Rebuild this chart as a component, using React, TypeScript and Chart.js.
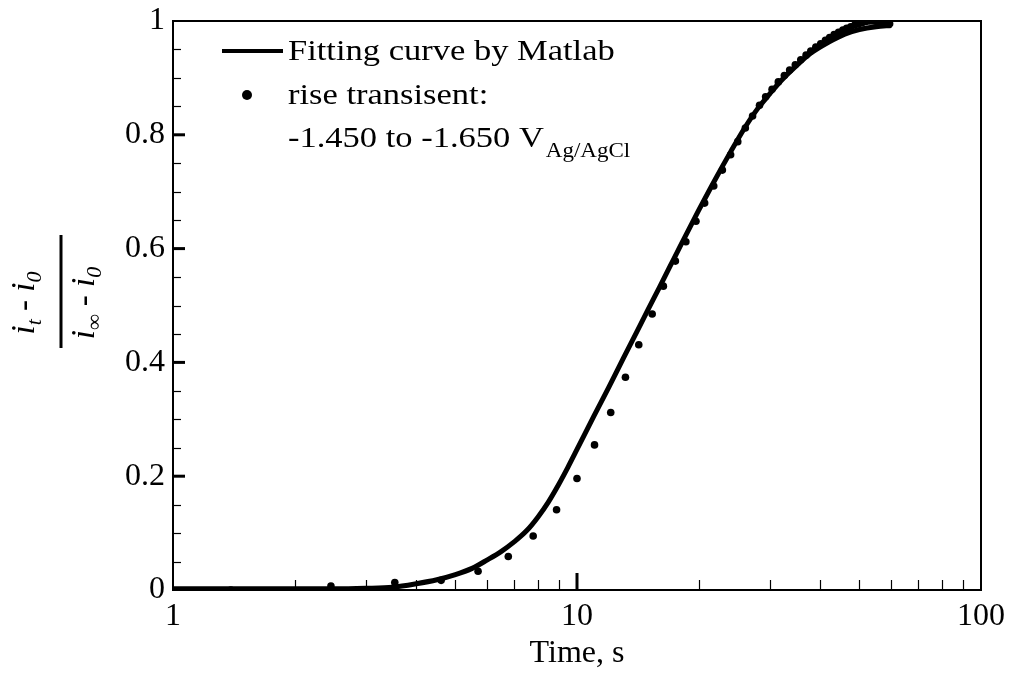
import React, { useEffect, useRef } from 'react';
import { Chart, registerables } from 'chart.js';

Chart.register(...registerables);

// Fitting curve
const fitTime = [1, 1.5, 2, 2.5, 3, 3.5, 4, 4.5, 5, 5.5, 6, 6.5, 7, 7.5, 8, 8.5, 9, 9.5, 10, 11, 12, 13, 14, 15, 16, 17, 18, 20, 22, 24, 26, 28, 30, 32, 35, 38, 42, 46, 50, 55, 60];
const fitValue = [0.002, 0.002, 0.002, 0.002, 0.003, 0.005, 0.011, 0.018, 0.027, 0.038, 0.053, 0.068, 0.085, 0.104, 0.128, 0.155, 0.185, 0.216, 0.247, 0.305, 0.357, 0.406, 0.451, 0.493, 0.532, 0.569, 0.604, 0.667, 0.722, 0.77, 0.812, 0.846, 0.872, 0.895, 0.922, 0.944, 0.963, 0.977, 0.985, 0.99, 0.992];

// Measured rise transient points
const dataTime = [1.39, 2.46, 3.54, 4.61, 5.69, 6.76, 7.79, 8.9, 10.0, 11.05, 12.12, 13.18, 14.22, 15.35, 16.36, 17.52, 18.6, 19.7, 20.7, 21.8, 22.9, 24.0, 25.0, 26.1, 27.2, 28.3, 29.3, 30.4, 31.5, 32.6, 33.6, 34.7, 35.8, 36.9, 37.9, 39.0, 40.1, 41.2, 42.2, 43.3, 44.4, 45.5, 46.5, 47.6, 48.7, 49.8, 50.8, 51.9, 53.0, 54.1, 55.1, 56.2, 57.3, 58.4, 59.4];
const dataValue = [0.0, 0.007, 0.013, 0.017, 0.033, 0.059, 0.095, 0.141, 0.196, 0.255, 0.312, 0.374, 0.431, 0.485, 0.534, 0.578, 0.612, 0.648, 0.68, 0.71, 0.738, 0.765, 0.788, 0.812, 0.833, 0.852, 0.867, 0.88, 0.893, 0.904, 0.914, 0.923, 0.932, 0.94, 0.947, 0.954, 0.96, 0.966, 0.971, 0.976, 0.98, 0.984, 0.987, 0.99, 0.993, 0.995, 0.997, 0.999, 1.0, 1.0, 0.999, 0.998, 0.997, 0.996, 0.995];

const xTickLabels = [1, 10, 100];
const xMinorTicks = [2, 3, 4, 5, 6, 7, 8, 9, 20, 30, 40, 50, 60, 70, 80, 90];
const xMajorInnerTicks = [10];
const yTickLabels = [0, 0.2, 0.4, 0.6, 0.8, 1];
const yMinorTicks = [0.05, 0.1, 0.15, 0.25, 0.3, 0.35, 0.45, 0.5, 0.55, 0.65, 0.7, 0.75, 0.85, 0.9, 0.95];
const yMajorInnerTicks = [0.2, 0.4, 0.6, 0.8];

const legendFit = 'Fitting curve by Matlab';
const legendData1 = 'rise transisent:';
const legendData2 = '-1.450 to -1.650 V';
const legendDataSub = 'Ag/AgCl';
const xTitle = 'Time, s';

const SERIF = '"Liberation Serif", "Times New Roman", serif';

const framePlugin = {
  id: 'framePlugin',
  afterDraw(chart: any) {
    const { ctx, chartArea: a, scales } = chart;
    const x = scales.x;
    const y = scales.y;
    ctx.save();
    ctx.strokeStyle = '#000';
    ctx.fillStyle = '#000';
    ctx.lineCap = 'butt';

    // frame
    ctx.lineWidth = 2;
    ctx.strokeRect(a.left, a.top, a.right - a.left, a.bottom - a.top);

    const seg = (x1: number, y1: number, x2: number, y2: number, w: number) => {
      ctx.lineWidth = w;
      ctx.beginPath();
      ctx.moveTo(x1, y1);
      ctx.lineTo(x2, y2);
      ctx.stroke();
    };

    // inner ticks, x
    xMinorTicks.forEach((v) => {
      const px = Math.round(x.getPixelForValue(v)) + 0.5;
      seg(px, a.bottom, px, a.bottom - 10, 1.2);
    });
    xMajorInnerTicks.forEach((v) => {
      const px = x.getPixelForValue(v);
      seg(px, a.bottom, px, a.bottom - 17, 3);
    });
    // inner ticks, y
    yMinorTicks.forEach((v) => {
      const py = Math.round(y.getPixelForValue(v)) + 0.5;
      seg(a.left, py, a.left + 8, py, 1.2);
    });
    yMajorInnerTicks.forEach((v) => {
      const py = y.getPixelForValue(v);
      seg(a.left, py, a.left + 12, py, 3);
    });

    // legend
    seg(222, 51, 283, 51, 4);
    ctx.beginPath();
    ctx.arc(247, 95, 5, 0, Math.PI * 2);
    ctx.fill();

    const stretch = 1.15;
    const text = (t: string, px: number, py: number, font: string) => {
      ctx.save();
      ctx.font = font;
      ctx.textAlign = 'left';
      ctx.textBaseline = 'middle';
      ctx.translate(px, py);
      ctx.scale(stretch, 1);
      ctx.fillText(t, 0, 0);
      const w = ctx.measureText(t).width * stretch;
      ctx.restore();
      return w;
    };
    text(legendFit, 288, 52, `30px ${SERIF}`);
    text(legendData1, 288, 96, `30px ${SERIF}`);
    const w2 = text(legendData2, 288, 139, `30px ${SERIF}`);
    text(legendDataSub, 288 + w2 + 2, 152, `20px ${SERIF}`);

    // y-axis title: fraction (i_t - i_0)/(i_inf - i_0), rotated
    ctx.translate(61, 300);
    ctx.rotate(-Math.PI / 2);
    seg(-48, 0, 65, 0, 3);
    const mainFont = `italic 33px ${SERIF}`;
    const subFont = `italic 22px ${SERIF}`;
    const drawExpr = (parts: [string, boolean][], cx: number, base: number) => {
      let total = 0;
      parts.forEach(([t, sub]) => {
        ctx.font = sub ? subFont : mainFont;
        total += ctx.measureText(t).width;
      });
      let cur = cx - total / 2;
      ctx.textBaseline = 'alphabetic';
      ctx.textAlign = 'left';
      parts.forEach(([t, sub]) => {
        ctx.font = sub ? subFont : mainFont;
        ctx.fillText(t, cur, sub ? base + 7 : base);
        cur += ctx.measureText(t).width;
      });
    };
    drawExpr([['i', false], ['t', true], [' - ', false], ['i', false], ['0', true]], -3, -27);
    drawExpr([['i', false], ['\u221E', true], [' - ', false], ['i', false], ['0', true]], -3, 33);

    ctx.restore();
  },
};

export default function App() {
  const canvasRef = useRef<HTMLCanvasElement | null>(null);

  useEffect(() => {
    if (!canvasRef.current) return;
    const fitPoints = fitTime.map((t, i) => ({ x: t, y: fitValue[i] }));
    const dataPoints = dataTime.map((t, i) => ({ x: t, y: dataValue[i] }));
    const chart = new Chart(canvasRef.current, {
      type: 'scatter',
      data: {
        datasets: [
          {
            label: legendFit,
            data: fitPoints,
            showLine: true,
            borderColor: '#000',
            backgroundColor: '#000',
            borderWidth: 5,
            pointRadius: 0,
            cubicInterpolationMode: 'monotone',
          } as any,
          {
            label: legendData1,
            data: dataPoints,
            showLine: false,
            borderColor: '#000',
            backgroundColor: '#000',
            pointRadius: 3.8,
            pointBorderWidth: 0,
          } as any,
        ],
      },
      options: {
        animation: false,
        responsive: false,
        layout: { padding: { top: 21, right: 30, left: 0, bottom: 0 } },
        plugins: {
          legend: { display: false },
          tooltip: { enabled: false },
        },
        scales: {
          x: {
            type: 'logarithmic',
            min: 1,
            max: 100,
            grid: { display: false, drawTicks: false },
            border: { display: false },
            afterBuildTicks: (s: any) => {
              s.ticks = xTickLabels.map((v) => ({ value: v }));
            },
            afterFit: (s: any) => {
              s.height = 85;
            },
            ticks: {
              color: '#000',
              font: { family: SERIF, size: 32 },
              padding: 7,
              maxRotation: 0,
              autoSkip: false,
              callback: (v: any) => String(v),
            },
            title: {
              display: true,
              text: xTitle,
              color: '#000',
              font: { family: SERIF, size: 32 },
              padding: { top: 0, bottom: 2 },
            },
          },
          y: {
            type: 'linear',
            min: 0,
            max: 1,
            grid: { display: false, drawTicks: false },
            border: { display: false },
            afterBuildTicks: (s: any) => {
              s.ticks = yTickLabels.map((v) => ({ value: v }));
            },
            afterFit: (s: any) => {
              s.width = 173;
            },
            ticks: {
              color: '#000',
              font: { family: SERIF, size: 32, lineHeight: 0.8 },
              padding: 8,
              callback: (v: any) => String(v),
            },
          },
        },
      } as any,
      plugins: [framePlugin],
    });
    return () => chart.destroy();
  }, []);

  return (
    <div style={{ position: 'absolute', left: 0, top: 0, width: 1012, height: 675, background: '#fff' }}>
      <canvas ref={canvasRef} width={1012} height={675} style={{ display: 'block' }} />
    </div>
  );
}
